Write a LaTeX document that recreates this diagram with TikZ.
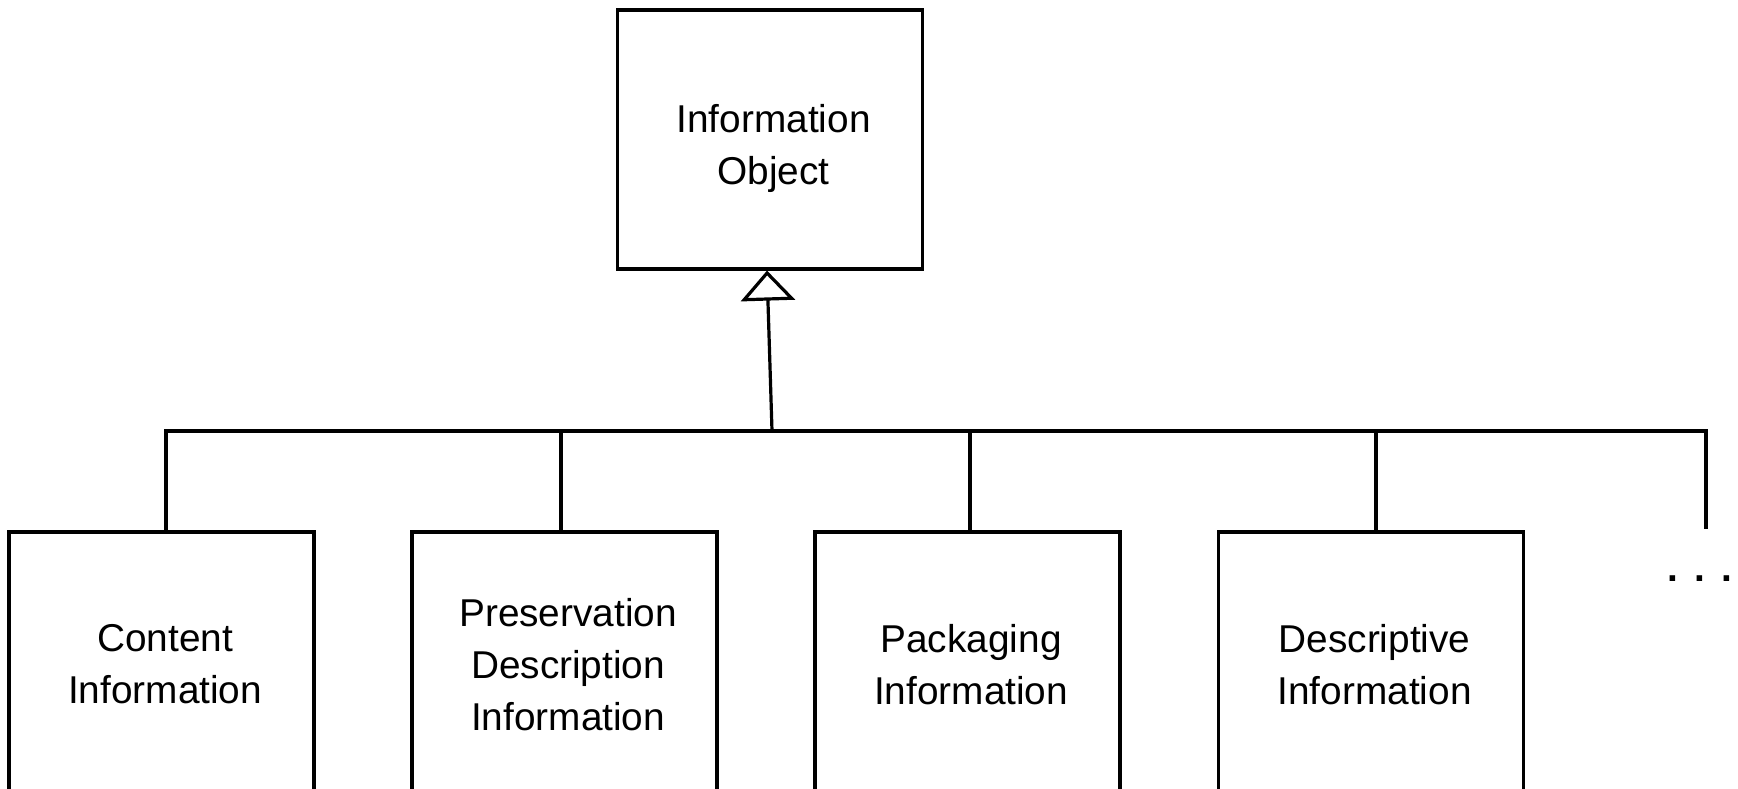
\documentclass[tikz,border=0pt]{standalone}
\usepackage{fontspec}
\setmainfont{Liberation Sans}
\usetikzlibrary{arrows.meta}
\begin{document}
\begin{tikzpicture}[x=0.5pt,y=-0.5pt,
  box/.style={draw, line width=1.6pt, minimum width=152.5pt, minimum height=129.5pt,
    inner sep=0pt},
  txt/.style={align=center, inner sep=0pt, xshift=1.8pt, font=\fontsize{19.4}{26}\selectfont},
  wire/.style={line width=1.6pt},
  gen/.style={line width=1.6pt, -{Triangle[open, length=15pt, width=27pt, line width=1.6pt]}}]
\useasboundingbox (0,0) rectangle (1738,788);
\clip (0,0) rectangle (1738,788);
\node[box, label={[txt, yshift=-4.5pt]center:{Information\\Object}}] (io) at (770,139.5) {};
\node[box, label={[txt, yshift=-1.5pt]center:{Content\\Information}}] (ci) at (161.5,661.5) {};
\node[box, label={[txt, yshift=-1.5pt]center:{Preservation\\Description\\Information}}] (pdi) at (564.5,661.5) {};
\node[box, label={[txt, yshift=-1.5pt]center:{Packaging\\Information}}] (pi) at (967.5,661.5) {};
\node[box, label={[txt, yshift=-1.5pt]center:{Descriptive\\Information}}] (di) at (1371,661.5) {};
\coordinate (b1) at (166,431);
\coordinate (b2) at (561,431);
\coordinate (bm) at (772,431);
\coordinate (b3) at (970,431);
\coordinate (b4) at (1376,431);
\coordinate (b5) at (1706,431);
\coordinate (e5) at (1706,529);
\draw[wire] (ci.north -| b1) -- (b1) -- (b5) -- (e5);
\draw[wire] (b2) -- (b2 |- pdi.north);
\draw[wire] (b3) -- (b3 |- pi.north);
\draw[wire] (b4) -- (b4 |- di.north);
\draw[gen] (bm) -- ([xshift=-1.5pt]io.south);
\node[anchor=base, inner sep=0pt, font=\fontsize{19.4}{26}\selectfont\bfseries] (more) at (1700,581) {.\hspace{8pt}.\hspace{8pt}.};
\end{tikzpicture}
\end{document}
